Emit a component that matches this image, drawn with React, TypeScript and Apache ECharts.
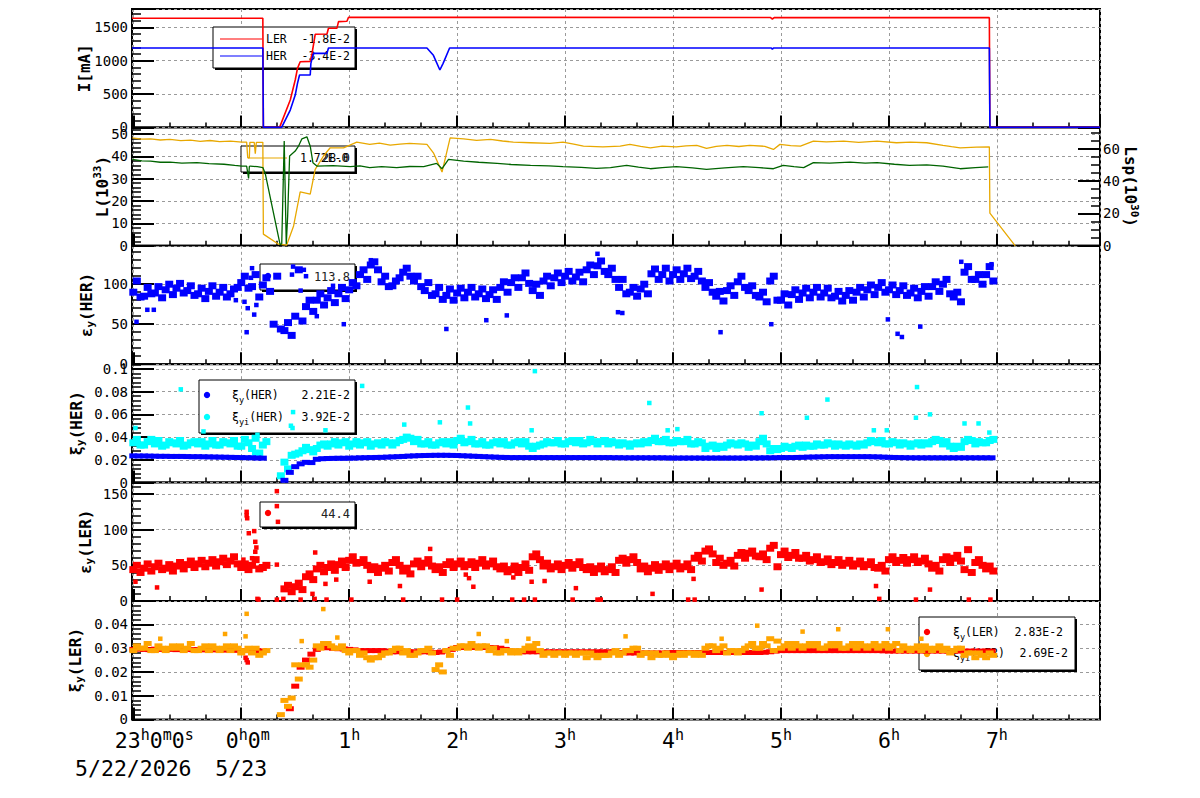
import React, { useEffect, useRef } from 'react';
import * as echarts from 'echarts';

const MONO = '"DejaVu Sans Mono", monospace';
const GRID_C = '#9a9a9a';

// time axis in hours relative to 0h of 5/23 (23:00 of 5/22 is -1)
const X_MIN = -1.012;
const X_MAX = 7.955;
const T0 = -1.0; // first sample time of the sampled band arrays
const DT = 0.1;  // sampling step (h) of the band arrays

// ---------- Panel 1 : beam currents I [mA] ----------
const lerCurrent: number[][] = [
  [-1.012, 1635], [0.2, 1635], [0.205, 0], [0.355, 0], [0.454, 410], [0.5, 710], [0.521, 885], [0.546, 985],
  [0.639, 990], [0.655, 1100], [0.685, 1395], [0.794, 1400], [0.808, 1485], [0.886, 1485], [0.901, 1585],
  [0.979, 1590], [0.994, 1650], [4.9, 1648], [4.92, 1625], [4.94, 1648], [6.93, 1645], [6.935, 0], [7.955, 0],
];
const herCurrent: number[][] = [
  [-1.012, 1190], [0.2, 1190], [0.205, 0], [0.374, 0], [0.454, 260], [0.5, 485], [0.521, 660], [0.54, 785],
  [0.639, 785], [0.645, 960], [0.669, 1110], [0.794, 1110], [0.808, 1190], [1.72, 1190], [1.78, 1080],
  [1.84, 860], [1.87, 960], [1.93, 1190], [4.91, 1190], [4.92, 1170], [4.93, 1190], [6.93, 1190], [6.935, 0], [7.955, 0],
];

// ---------- Panel 2 : luminosity ----------
const lspOrange: number[][] = [
  [-1.01, 66.7], [-0.92, 66.0], [-0.84, 66.1], [-0.75, 65.4], [-0.66, 65.8], [-0.56, 65.0], [-0.47, 65.3],
  [-0.38, 64.6], [-0.29, 65.1], [-0.2, 64.4], [-0.1, 64.7], [0.006, 64.1], [0.05, 64.1], [0.06, 54.4],
  [0.075, 54.4], [0.08, 64.0], [0.12, 64.0], [0.13, 57.0], [0.14, 64.0], [0.2, 64.0], [0.205, 7.2],
  [0.346, 1.0], [0.42, 0.4], [0.485, 12.3], [0.546, 33.3], [0.639, 31.9], [0.685, 47.3], [0.762, 55.5],
  [0.824, 60.6], [0.948, 60.6], [1.07, 64.1], [1.19, 62.7], [1.28, 63.5], [1.38, 62.2], [1.47, 62.9],
  [1.56, 63.3], [1.72, 62.7], [1.78, 57.5], [1.86, 45.6], [1.935, 66.7], [2.06, 66.1], [2.18, 65.2],
  [2.31, 65.8], [2.42, 64.8], [2.52, 64.1], [2.68, 63.7], [2.86, 63.3], [2.98, 64.1], [3.08, 62.8],
  [3.17, 61.6], [3.35, 61.2], [3.51, 61.6], [3.6, 62.7], [3.7, 61.5], [3.79, 60.6], [3.9, 61.6],
  [4.03, 61.2], [4.12, 61.8], [4.22, 62.1], [4.31, 60.2], [4.4, 61.5], [4.5, 62.1], [4.61, 61.4],
  [4.71, 62.1], [4.85, 61.5], [4.93, 59.6], [4.99, 62.7], [5.09, 61.9], [5.18, 61.6], [5.3, 64.7],
  [5.42, 64.2], [5.58, 64.7], [5.72, 64.0], [5.89, 64.7], [6.07, 63.7], [6.2, 64.1], [6.35, 63.7],
  [6.5, 62.1], [6.58, 61.3], [6.66, 60.6], [6.81, 61.0], [6.93, 61.2], [6.935, 20.2], [7.17, 0],
];
const lumGreen: number[][] = [
  [-1.01, 38.7], [-0.92, 38.0], [-0.84, 37.9], [-0.75, 37.4], [-0.66, 37.5], [-0.55, 37.0], [-0.41, 37.2],
  [-0.3, 36.8], [-0.16, 36.5], [-0.06, 36.0], [0.006, 35.7], [0.05, 35.7], [0.068, 30.2], [0.075, 35.5],
  [0.083, 35.7], [0.15, 35.4], [0.2, 35.0], [0.222, 32.4], [0.36, 0.5], [0.375, 0.8], [0.398, 46.9],
  [0.417, 0.8], [0.43, 13.4], [0.448, 40.2], [0.5, 42.4], [0.53, 44.6], [0.562, 47.9], [0.608, 48.8],
  [0.639, 44.6], [0.664, 37.2], [0.7, 35.7], [0.85, 35.9], [1.01, 35.4], [1.1, 35.8], [1.19, 35.0],
  [1.3, 35.4], [1.44, 35.0], [1.56, 35.5], [1.69, 35.4], [1.81, 36.9], [1.86, 34.5], [1.92, 38.7],
  [2.06, 37.9], [2.2, 37.4], [2.37, 36.9], [2.5, 36.4], [2.68, 36.0], [2.85, 35.8], [2.98, 35.4],
  [3.15, 35.1], [3.29, 34.7], [3.42, 35.0], [3.57, 36.0], [3.68, 35.2], [3.79, 34.5], [3.9, 35.0],
  [4.03, 35.4], [4.18, 34.9], [4.31, 34.2], [4.48, 34.9], [4.65, 35.4], [4.8, 35.0], [4.93, 34.5],
  [5.02, 36.0], [5.12, 35.4], [5.21, 35.0], [5.3, 37.2], [5.45, 37.0], [5.64, 37.5], [5.78, 37.0],
  [5.89, 37.2], [6.05, 36.5], [6.19, 36.0], [6.35, 36.2], [6.5, 35.7], [6.66, 34.5], [6.8, 35.0], [6.92, 35.3],
];

// ---------- Panel 3 : emittance eps_y(HER), three readings per 0.1 h ----------
const epsHerA: (number | null)[] = [
  104, 96, 97, 100, 101, 98, 95, 98, 96, 94,
  110, 112, 108, 110, 52, 118, 80, 88, 92, 96,
  102, 118, 128, 110, 104, 120, 110, 102, 96, 94,
  95, 96, 94, 93, 103, 108, 114, 100, 110, 114,
  116, 115, 124, 129, 120, 106, 96, 100, 119, 120,
  118, 120, 116, 102, 91, 98, 110, 98, 90, 110,
  88, 93, 95, 96, 95, 91, 92, 96, 99, 102,
  99, 98, 95, 97, 103, 106, 90, 122, 112, 122,
];
const epsHerB: (number | null)[] = [
  90, 85, 89, 93, 95, 92, 88, 91, 90, 88,
  102, 97, 99, 50, 42, 60, 72, 80, 83, 88,
  93, 112, 124, 103, 98, 115, 104, 92, 88, 86,
  89, 90, 88, 87, 96, 102, 108, 92, 104, 108,
  110, 109, 118, 123, 112, 96, 90, 94, 113, 112,
  112, 113, 110, 96, 85, 92, 103, 92, 84, 104,
  80, 87, 89, 90, 89, 85, 86, 90, 93, 96,
  93, 92, 89, 91, 97, 100, 84, 115, 106, 112,
];
const epsHerC: (number | null)[] = [
  84, 88, 83, 87, 89, 86, 82, 85, 84, 96,
  95, 84, 91, 44, 36, 54, 66, 74, 77, 82,
  98, 106, 118, 97, 108, 110, 97, 86, 81, 80,
  83, 84, 82, 81, 90, 96, 101, 86, 98, 102,
  104, 103, 112, 116, 106, 88, 85, 88, 106, 104,
  106, 107, 104, 90, 79, 86, 96, 86, 78, 80,
  74, 81, 83, 84, 83, 79, 80, 84, 87, 90,
  87, 86, 83, 85, 91, 88, 78, 106, 100, 104,
];
const epsHerOut: number[][] = [
  [-0.97, 53], [-0.87, 68], [-0.81, 68], [0.05, 40], [0.06, 70], [-0.05, 80], [0.12, 62], [0.6, 110], [0.7, 60],
  [0.95, 50], [1.9, 44], [2.27, 55], [2.46, 61], [3.49, 65], [3.53, 64], [4.44, 40], [4.91, 50], [5.99, 56],
  [6.08, 38], [6.12, 34], [6.29, 47], [6.67, 128], [6.95, 125], [3.3, 138], [1.2, 130], [0.48, 122],
  [0.47, 112], [0.14, 74], [0.03, 78], [0.09, 108], [0.1, 120], [0.55, 92], [0.58, 118], [0.85, 98],
];

// ---------- Panel 4 : beam-beam xi_y(HER) (blue) and xi_yi(HER) (cyan), in 1e-2 ----------
const xiHerA: (number | null)[] = [
  2.35, 2.34, 2.32, 2.31, 2.30, 2.29, 2.28, 2.26, 2.24, 2.22,
  2.20, 2.18, 2.15, null, 0.2, 1.4, 1.78, 2.05, 2.12, 2.14,
  2.15, 2.18, 2.20, 2.22, 2.26, 2.30, 2.35, 2.38, 2.40, 2.40,
  2.38, 2.34, 2.30, 2.26, 2.22, 2.20, 2.20, 2.20, 2.20, 2.20,
  2.20, 2.20, 2.20, 2.20, 2.20, 2.19, 2.18, 2.18, 2.18, 2.18,
  2.16, 2.16, 2.16, 2.16, 2.16, 2.16, 2.16, 2.17, 2.17, 2.18,
  2.20, 2.20, 2.22, 2.25, 2.27, 2.28, 2.28, 2.28, 2.28, 2.26,
  2.22, 2.20, 2.18, 2.18, 2.18, 2.18, 2.18, 2.18, 2.18, 2.18,
];
const xiHerB: (number | null)[] = [
  2.34, 2.33, 2.31, 2.30, 2.30, 2.28, 2.27, 2.25, 2.23, 2.21,
  2.19, 2.16, null, null, 0.9, 1.65, 1.76, 2.10, 2.13, 2.14,
  2.16, 2.19, 2.21, 2.24, 2.28, 2.33, 2.37, 2.39, 2.40, 2.39,
  2.36, 2.32, 2.28, 2.24, 2.21, 2.20, 2.20, 2.20, 2.20, 2.20,
  2.20, 2.20, 2.20, 2.20, 2.19, 2.18, 2.18, 2.18, 2.18, 2.17,
  2.16, 2.16, 2.16, 2.16, 2.16, 2.16, 2.16, 2.17, 2.18, 2.19,
  2.20, 2.21, 2.24, 2.26, 2.28, 2.28, 2.28, 2.28, 2.27, 2.24,
  2.21, 2.19, 2.18, 2.18, 2.18, 2.18, 2.18, 2.18, 2.18, 2.18,
];
const xiiHerA: (number | null)[] = [
  3.8, 3.6, 3.7, 3.6, 3.7, 3.5, 3.6, 3.7, 3.6, 3.7,
  3.8, 3.9, 3.6, null, 1.2, 2.6, 2.9, 3.3, 3.4, 3.5,
  3.4, 3.5, 3.4, 3.6, 3.5, 4.0, 3.8, 3.6, 3.5, 3.6,
  3.9, 3.8, 3.6, 3.5, 3.6, 3.5, 3.6, 3.2, 3.6, 3.7,
  3.6, 3.7, 3.8, 3.6, 3.6, 3.5, 3.4, 3.6, 3.9, 3.8,
  3.7, 3.8, 3.6, 3.2, 3.2, 3.5, 3.5, 3.3, 3.9, 3.0,
  3.2, 3.2, 3.3, 3.4, 3.5, 3.4, 3.4, 3.4, 3.7, 3.7,
  3.6, 3.5, 3.4, 3.5, 3.8, 3.6, 3.2, 3.8, 3.6, 3.7,
];
const xiiHerB: (number | null)[] = [
  3.5, 3.3, 3.4, 3.3, 3.4, 3.3, 3.4, 3.4, 3.3, 3.4,
  3.2, 3.0, 3.3, null, 1.8, 2.5, 3.1, 3.0, 3.2, 3.3,
  3.2, 3.3, 3.2, 3.3, 3.3, 3.8, 3.6, 3.4, 3.3, 3.4,
  3.7, 3.6, 3.4, 3.3, 3.4, 3.3, 3.4, 3.0, 3.4, 3.5,
  3.4, 3.5, 3.5, 3.4, 3.4, 3.3, 3.2, 3.4, 3.7, 3.6,
  3.5, 3.6, 3.4, 3.0, 3.0, 3.3, 3.3, 3.1, 3.6, 2.8,
  3.0, 3.0, 3.1, 3.2, 3.3, 3.2, 3.2, 3.2, 3.5, 3.5,
  3.4, 3.3, 3.2, 3.3, 3.6, 3.4, 3.0, 3.6, 3.4, 3.5,
];
const xiiHerC: (number | null)[] = [
  3.3, 3.8, 3.2, 3.5, 3.2, 3.6, 3.2, 3.3, 3.5, 3.2,
  3.5, 2.6, null, 0.6, 2.4, 2.8, 2.7, 3.4, 3.6, 3.6,
  3.6, 3.6, 3.5, 3.5, 3.7, 3.9, 3.4, 3.3, 3.6, 3.3,
  3.5, 3.4, 3.3, 3.6, 3.3, 3.6, 3.2, 3.3, 3.5, 3.4,
  3.7, 3.4, 3.6, 3.7, 3.5, 3.4, 3.5, 3.5, 3.6, 3.5,
  3.6, 3.4, 3.5, 3.3, 3.1, 3.4, 3.4, 3.2, 3.4, 2.9,
  3.1, 3.3, 3.2, 3.3, 3.4, 3.3, 3.3, 3.3, 3.6, 3.4,
  3.5, 3.4, 3.5, 3.4, 3.7, 3.2, 3.1, 3.7, 3.5, 3.8,
];
const xiiHerOut: number[][] = [
  [-0.56, 8.2], [-0.98, 4.8], [-0.35, 4.5], [0.475, 4.8], [0.46, 5.0], [0.48, 6.2], [1.12, 8.5], [1.84, 5.3],
  [2.1, 6.6], [2.12, 5.2], [2.72, 9.8], [1.51, 5.1], [0.78, 4.6], [2.69, 4.6], [3.78, 7.0], [4.82, 6.1],
  [5.24, 5.7], [5.43, 7.3], [6.26, 8.4], [6.25, 5.7], [6.38, 6.0], [6.7, 5.2], [6.83, 5.2], [6.93, 4.4],
  [5.86, 4.6], [5.98, 4.6], [4.04, 4.7], [3.95, 4.6], [0.1, 2.2], [0.15, 4.2], [0.12, 2.6],
];

// ---------- Panel 5 : emittance eps_y(LER) ----------
const epsLerA: (number | null)[] = [
  50, 52, 53, 51, 54, 56, 57, 58, 60, 62,
  52, 58, 50, null, 22, 25, 38, 50, 52, 56,
  62, 58, 48, 50, 58, 46, 56, 58, 48, 55,
  56, 55, 58, 56, 49, 49, 52, 66, 53, 52,
  54, 55, 48, 49, 48, 60, 62, 49, 51, 52,
  53, 52, 64, 73, 60, 57, 68, 70, 66, 78,
  70, 68, 64, 62, 59, 58, 57, 56, 55, 50,
  62, 61, 62, 60, 50, 62, 64, 72, 58, 49,
];
const epsLerB: (number | null)[] = [
  44, 46, 48, 46, 49, 51, 52, 53, 55, 56,
  47, 50, 47, null, 17, 20, 34, 45, 47, 51,
  57, 54, 44, 46, 54, 42, 52, 53, 44, 51,
  52, 51, 53, 52, 45, 44, 47, 62, 49, 48,
  50, 51, 44, 45, 44, 57, 58, 45, 46, 48,
  49, 48, 60, 70, 54, 53, 64, 67, 62, 74,
  65, 64, 60, 58, 55, 54, 53, 52, 51, 46,
  58, 57, 58, 56, 46, 58, 60, 44, 54, 45,
];
const epsLerC: (number | null)[] = [
  40, 42, 44, 42, 45, 47, 48, 49, 51, 52,
  44, 45, null, null, 13, 16, 30, 41, 43, 47,
  53, 50, 40, 42, 50, 38, 48, 49, 40, 47,
  48, 47, 49, 48, 41, 40, 43, 58, 45, 44,
  46, 47, 40, 41, 40, 53, 54, 41, 43, 44,
  45, 44, 56, 66, 50, 49, 60, 63, 58, 48,
  61, 60, 56, 54, 51, 50, 49, 48, 47, 42,
  54, 53, 54, 52, 42, 54, 56, 40, 50, 42,
];
const epsLerOut: number[][] = [
  [-0.98, 27], [-0.78, 19], [1.75, 73], [1.19, 27], [2.15, 20], [2.81, 28], [3.1, 18], [3.81, 10], [4.19, 31],
  [4.82, 16], [5.88, 21], [6.38, 16], [0.685, 68], [0.78, 24], [0.88, 30], [0.66, 10], [1.47, 21],
  [2.11, 32], [2.08, 37], [2.52, 33], [2.69, 27],
  [0.15, 3], [0.16, 2], [0.33, 2], [0.39, 3], [0.55, 2], [0.68, 3], [0.79, 2], [1.02, 2], [1.5, 2],
  [1.86, 2], [2.0, 2], [2.51, 2], [2.62, 2], [2.72, 2], [3.07, 2], [3.3, 2], [3.33, 2], [4.14, 2],
  [4.2, 2], [5.91, 3], [6.25, 2], [6.74, 2], [6.94, 2],
  [0.05, 125], [0.05, 120], [0.055, 116], [0.07, 95], [0.12, 98], [0.13, 83], [0.14, 75], [0.13, 69],
  [0.33, 154], [0.33, 133], [0.34, 111], [0.33, 51], [0.1, 60], [0.02, 58],
];

// ---------- Panel 6 : beam-beam xi_y(LER) (red) and xi_yi(LER) (orange), in 1e-2 ----------
const xiLerA: (number | null)[] = [
  2.95, 2.95, 2.96, 2.95, 2.94, 2.95, 2.94, 2.93, 2.93, 2.92,
  2.90, 2.90, 2.88, null, null, 1.4, 2.5, 2.95, 3.02, 2.98,
  2.95, 2.90, 2.90, 2.90, 2.85, 2.85, 2.85, 2.85, 2.82, 2.88,
  3.03, 3.03, 3.03, 3.03, 3.00, 2.88, 2.85, 2.85, 2.85, 2.85,
  2.85, 2.85, 2.85, 2.85, 2.85, 2.82, 2.80, 2.80, 2.80, 2.80,
  2.82, 2.82, 2.82, 2.82, 2.82, 2.82, 2.82, 2.82, 2.82, 2.85,
  2.90, 2.90, 2.90, 2.90, 2.90, 2.90, 2.90, 2.90, 2.90, 2.90,
  2.88, 2.88, 2.88, 2.88, 2.88, 2.88, 2.88, 2.88, 2.88, 2.88,
];
const xiLerB: (number | null)[] = [
  2.96, 2.94, 2.95, 2.95, 2.95, 2.94, 2.93, 2.93, 2.92, 2.91,
  2.90, 2.89, null, null, 0.45, 2.2, 2.75, 3.05, 3.00, 2.97,
  2.93, 2.90, 2.90, 2.88, 2.85, 2.85, 2.85, 2.84, 2.84, 2.95,
  3.03, 3.03, 3.03, 3.02, 2.95, 2.86, 2.85, 2.85, 2.85, 2.85,
  2.85, 2.85, 2.85, 2.85, 2.84, 2.81, 2.80, 2.80, 2.80, 2.81,
  2.82, 2.82, 2.82, 2.82, 2.82, 2.82, 2.82, 2.82, 2.83, 2.88,
  2.90, 2.90, 2.90, 2.90, 2.90, 2.90, 2.90, 2.90, 2.90, 2.89,
  2.88, 2.88, 2.88, 2.88, 2.88, 2.88, 2.88, 2.88, 2.88, 2.88,
];
const xiLerOut: number[][] = [[0.05, 2.5], [0.06, 2.4], [0.04, 2.6]];
const xiiLerA: (number | null)[] = [
  3.1, 3.2, 3.1, 3.0, 3.1, 3.2, 3.0, 3.1, 3.0, 3.1,
  2.9, 3.0, 2.9, null, 0.55, 1.7, 2.2, 3.0, 3.1, 3.1,
  2.9, 2.8, 2.6, 2.8, 3.0, 2.9, 2.8, 3.0, 2.3, 2.7,
  3.1, 3.2, 3.1, 3.0, 2.9, 2.9, 3.0, 3.2, 2.8, 2.8,
  2.8, 2.8, 2.8, 2.7, 2.8, 2.8, 3.0, 2.8, 2.8, 2.8,
  2.7, 2.8, 2.8, 3.1, 3.0, 2.9, 2.9, 3.2, 3.2, 2.9,
  3.1, 3.2, 3.1, 3.2, 3.1, 3.2, 3.1, 3.2, 3.1, 3.1,
  3.1, 3.1, 3.0, 3.1, 3.0, 3.0, 3.0, 2.8, 2.8, 2.8,
];
const xiiLerB: (number | null)[] = [
  2.9, 3.0, 2.9, 2.9, 3.0, 3.0, 2.9, 2.9, 2.9, 2.9,
  2.8, 2.8, 2.8, null, 0.8, 2.3, 2.3, 3.1, 3.2, 3.0,
  2.8, 2.7, 2.5, 2.7, 2.9, 2.8, 2.7, 2.9, 2.1, 2.9,
  3.0, 3.0, 3.0, 2.9, 2.8, 2.8, 2.9, 3.0, 2.7, 2.7,
  2.7, 2.7, 2.6, 2.6, 2.7, 2.7, 2.9, 2.7, 2.6, 2.7,
  2.6, 2.7, 2.7, 3.0, 2.9, 2.8, 2.8, 3.1, 3.0, 3.4,
  3.0, 3.0, 3.0, 3.1, 3.0, 3.1, 3.0, 3.0, 3.0, 3.0,
  3.0, 2.9, 2.9, 2.9, 2.9, 2.9, 2.9, 2.7, 2.6, 2.6,
];
const xiiLerC: (number | null)[] = [
  3.0, 2.9, 3.0, 3.1, 2.9, 2.9, 3.1, 3.0, 3.1, 3.0,
  3.0, 2.7, null, 0.2, 0.9, 2.3, 2.5, 3.2, 3.0, 2.9,
  2.9, 2.6, 2.6, 2.8, 3.0, 2.7, 2.9, 2.8, 2.0, 3.0,
  3.1, 3.1, 3.1, 2.8, 2.9, 2.8, 3.1, 2.9, 2.8, 2.8,
  2.8, 2.8, 2.7, 2.7, 2.9, 2.9, 3.0, 2.8, 2.7, 2.7,
  2.8, 2.8, 2.7, 3.1, 3.1, 2.9, 3.0, 3.0, 3.1, 3.3,
  3.2, 3.1, 3.2, 3.0, 3.2, 3.0, 3.2, 3.1, 3.2, 3.2,
  3.2, 3.0, 3.1, 3.0, 3.1, 2.8, 3.0, 2.8, 2.7, 2.7,
];
const xiiLerOut: number[][] = [
  [0.05, 4.45], [0.76, 4.65], [-0.15, 3.6], [2.2, 3.6], [2.66, 3.4], [4.78, 3.95], [5.2, 3.7], [5.53, 3.8],
  [5.99, 3.8], [3.56, 3.5], [4.45, 3.4], [6.3, 3.4], [0.04, 3.5], [-0.75, 3.4], [0.56, 3.3], [0.89, 3.45],
  [2.46, 3.3],
];

// ---------- legend texts ----------
const legCurrent = [
  { name: 'LER', value: '-1.8E-2', color: '#ff0000' },
  { name: 'HER', value: '-3.4E-2', color: '#0000ff' },
];
const legLum = { a: '1.72E-0', b: '28.0' };
const legEpsHer = '113.8';
const legEpsLer = '44.4';
const legXiHer = [
  { name: '{g|ξ}{s|y}{g|(HER)}', value: '2.21E-2', color: '#0000ff' },
  { name: '{g|ξ}{s|yi}{g|(HER)}', value: '3.92E-2', color: '#00ffff' },
];
const legXiLer = [
  { name: '{g|ξ}{s|y}{g|(LER)}', value: '2.83E-2', color: '#ff0000' },
  { name: '{g|ξ}{s|yi}{g|(LER)}', value: '2.69E-2', color: '#ffa500' },
];

// ---------- helpers ----------
const BAND_OFFS = [0.033, 0, 0.067];
const OUT_SYM = 4.5;
const sampled = (arrs: (number | null)[][], offs: number[], scale: number) => {
  const pts: number[][] = [];
  arrs.forEach((arr, k) =>
    arr.forEach((v, i) => {
      if (v !== null) pts.push([T0 + DT * i + offs[k], v * scale]);
    })
  );
  return pts;
};
const outliers = (pts: number[][], scale: number) =>
  pts.map(([t, v]) => ({ value: [t, v * scale], symbolSize: OUT_SYM }));

const NAME_RICH = {
  n: { fontSize: 16, fontWeight: 'bold', fontFamily: MONO, color: '#000', lineHeight: 20 },
  sub: { fontSize: 11, fontWeight: 'bold', fontFamily: MONO, color: '#000', lineHeight: 10, verticalAlign: 'bottom' },
  sup: { fontSize: 11, fontWeight: 'bold', fontFamily: MONO, color: '#000', lineHeight: 10, verticalAlign: 'top' },
};

const PANEL_TOP = 9;
const PANEL_H = 118.4;

const xLabel = (v: number) => {
  const r = Math.round(v);
  if (Math.abs(v - r) > 1e-6) return '';
  if (r === -1) return '{p1|}{b|23}{s|h}{b|0}{s|m}{b|0}{s|s}\n{d|5/22/2026}';
  if (r === 0) return '{p0|}{b|0}{s|h}{b|0}{s|m}\n{d|5/23}';
  return `{b|${r}}{s|h}`;
};

function buildOption() {
  const grids = [0, 1, 2, 3, 4, 5].map((i) => ({
    left: 132,
    width: 968,
    top: PANEL_TOP + i * PANEL_H,
    height: PANEL_H,
    show: true,
    borderColor: '#000',
    borderWidth: 2,
    backgroundColor: '#fff',
  }));

  const xAxes = [0, 1, 2, 3, 4, 5].map((i) => ({
    type: 'value',
    gridIndex: i,
    min: X_MIN,
    max: X_MAX,
    splitNumber: 9,
    axisLine: { show: false, onZero: false },
    axisTick: { show: true, inside: true, length: 12, lineStyle: { color: '#000', width: 2 } },
    minorTick: { show: true, splitNumber: 3, length: 5, lineStyle: { color: '#000', width: 1.5 } },
    splitLine: { show: true, lineStyle: { color: GRID_C, type: [3, 3], width: 1 } },
    axisLabel: {
      show: i === 5,
      margin: 8,
      color: '#000',
      fontFamily: MONO,
      formatter: xLabel,
      rich: {
        b: { fontSize: 21.5, fontFamily: MONO, color: '#000', lineHeight: 26 },
        s: { fontSize: 15, fontFamily: MONO, color: '#000', lineHeight: 15, verticalAlign: 'top' },
        d: { fontSize: 21.5, fontFamily: MONO, color: '#000', lineHeight: 30 },
        p1: { width: 42 },
        p0: { width: 13 },
      },
    },
  }));

  const yAx = (gridIndex: number, max: number, interval: number, name: string, nameGap: number, extra: any = {}) => ({
    type: 'value',
    gridIndex,
    min: 0,
    max,
    interval,
    position: 'left',
    axisLine: { show: false, onZero: false },
    axisTick: { show: true, inside: true, length: 22, lineStyle: { color: '#000', width: 2 } },
    minorTick: { show: true, splitNumber: 5, length: 9, lineStyle: { color: '#000', width: 1.5 } },
    splitLine: { show: true, lineStyle: { color: GRID_C, type: [3, 3], width: 1 } },
    axisLabel: {
      show: true,
      color: '#000',
      fontFamily: MONO,
      fontSize: 14,
      margin: 4,
      showMaxLabel: false,
      formatter: (v: number) => String(v),
    },
    name,
    nameLocation: 'middle',
    nameRotate: 90,
    nameGap,
    nameMoveOverlap: false,
    nameTextStyle: { fontFamily: MONO, fontSize: 16, fontWeight: 'bold', color: '#000', rich: NAME_RICH },
    ...extra,
  });

  const yAxes = [
    yAx(0, 1774.5, 500, '{n|I[mA]}', 38),
    yAx(1, 53, 10, '{n|L(10}{sup|33}{n|)}', 20),
    yAx(1, 73.2, 20, '{n|Lsp(10}{sup|30}{n|)}', 20, {
      position: 'right',
      nameRotate: -90,
      splitLine: { show: false },
      minorTick: { show: true, splitNumber: 4, length: 9, lineStyle: { color: '#000', width: 1.5 } },
      axisLabel: { show: true, color: '#000', fontFamily: MONO, fontSize: 14, margin: 3, showMaxLabel: false, formatter: (v: number) => String(v) },
    }),
    yAx(2, 148, 50, '{n|ε}{sub|y}{n|(HER)}', 36),
    yAx(3, 0.1041, 0.02, '{n|ξ}{sub|y}{n|(HER)}', 46),
    yAx(4, 166, 50, '{n|ε}{sub|y}{n|(LER)}', 37),
    yAx(5, 0.0499, 0.01, '{n|ξ}{sub|y}{n|(LER)}', 47),
  ];

  const sq = (color: string, size: any) => ({
    type: 'scatter',
    symbol: 'rect',
    symbolSize: size,
    itemStyle: { color, opacity: 1 },
    silent: true,
    large: false,
  });

  const series: any[] = [
    { type: 'line', xAxisIndex: 0, yAxisIndex: 0, data: lerCurrent, symbol: 'none', lineStyle: { color: '#ff0000', width: 1.6 }, silent: true },
    { type: 'line', xAxisIndex: 0, yAxisIndex: 0, data: herCurrent, symbol: 'none', lineStyle: { color: '#0000ff', width: 1.6 }, silent: true },
    { type: 'line', xAxisIndex: 1, yAxisIndex: 2, data: lspOrange, symbol: 'none', lineStyle: { color: '#e8a800', width: 1.3 }, silent: true },
    { type: 'line', xAxisIndex: 1, yAxisIndex: 1, data: lumGreen, symbol: 'none', lineStyle: { color: '#006400', width: 1.3 }, silent: true },
    {
      ...sq('#0000ff', [8, 7]), xAxisIndex: 2, yAxisIndex: 3,
      data: [...sampled([epsHerA, epsHerB, epsHerC], BAND_OFFS, 1), ...outliers(epsHerOut, 1)],
    },
    {
      ...sq('#00ffff', [8, 7]), xAxisIndex: 3, yAxisIndex: 4,
      data: [...sampled([xiiHerA, xiiHerB, xiiHerC], BAND_OFFS, 0.01), ...outliers(xiiHerOut, 0.01)],
    },
    {
      ...sq('#0000ff', [8, 5]), xAxisIndex: 3, yAxisIndex: 4,
      data: sampled([xiHerA, xiHerB], [0, 0.05], 0.01),
    },
    {
      ...sq('#ff0000', [8, 7]), xAxisIndex: 4, yAxisIndex: 5,
      data: [...sampled([epsLerA, epsLerB, epsLerC], BAND_OFFS, 1), ...outliers(epsLerOut, 1)],
    },
    {
      ...sq('#ff0000', [8, 5]), xAxisIndex: 5, yAxisIndex: 6,
      data: [...sampled([xiLerA, xiLerB], [0, 0.05], 0.01), ...outliers(xiLerOut, 0.01)],
    },
    {
      ...sq('#ffa500', [8, 5]), xAxisIndex: 5, yAxisIndex: 6,
      data: [...sampled([xiiLerA, xiiLerB, xiiLerC], BAND_OFFS, 0.01), ...outliers(xiiLerOut, 0.01)],
    },
  ];

  // ---- legends drawn as graphic boxes (below the data, above the grid lines) ----
  const LF = 11.5;
  const txt = (x: number, y: number, text: string, align: string, size = LF, color = '#000') => ({
    type: 'text', x, y, z: 1, silent: true,
    style: {
      text, align, verticalAlign: 'middle', fontSize: size, fontFamily: MONO, fill: color,
      rich: {
        g: { fontSize: size, fontFamily: MONO, fill: color, lineHeight: 18 },
        s: { fontSize: size * 0.75, fontFamily: MONO, fill: color, lineHeight: 9, verticalAlign: 'bottom' },
      },
    },
  });
  const box = (x: number, y: number, w: number, h: number) => [
    { type: 'rect', z: 1, silent: true, shape: { x: x + 2, y: y + 2, width: w, height: h }, style: { fill: '#000' } },
    { type: 'rect', z: 1, silent: true, shape: { x, y, width: w, height: h }, style: { fill: '#fff', stroke: '#000', lineWidth: 1 } },
  ];
  const lineEl = (x1: number, x2: number, y: number, color: string) => ({
    type: 'line', z: 1, silent: true, shape: { x1, y1: y, x2, y2: y }, style: { stroke: color, lineWidth: 1.2 },
  });
  const dot = (cx: number, cy: number, color: string) => ({
    type: 'circle', z: 1, silent: true, shape: { cx, cy, r: 3.2 }, style: { fill: color },
  });

  const elements: any[] = [
    ...box(213, 27, 142, 41),
    lineEl(220, 262, 39, legCurrent[0].color),
    txt(266, 39, legCurrent[0].name, 'left'),
    txt(350, 39, legCurrent[0].value, 'right'),
    lineEl(220, 262, 56, legCurrent[1].color),
    txt(266, 56, legCurrent[1].name, 'left'),
    txt(350, 56, legCurrent[1].value, 'right'),

    ...box(241, 146, 114, 26),
    lineEl(248, 287, 158, '#e8a800'),
    txt(300, 158, legLum.a, 'left'),
    txt(350, 158, legLum.b, 'right'),

    ...box(260, 264, 95, 26),
    dot(268, 276, '#0000ff'),
    txt(350, 277, legEpsHer, 'right', 12, '#222'),

    ...box(199, 380, 156, 53),
    dot(207, 395, legXiHer[0].color),
    txt(232, 395, legXiHer[0].name, 'left'),
    txt(350, 395, legXiHer[0].value, 'right'),
    dot(207, 417, legXiHer[1].color),
    txt(232, 417, legXiHer[1].name, 'left'),
    txt(350, 417, legXiHer[1].value, 'right'),

    ...box(260, 502, 95, 25),
    dot(268, 513, '#ff0000'),
    txt(350, 514, legEpsLer, 'right', 12, '#222'),

    ...box(919, 617, 156, 53),
    dot(927, 632, legXiLer[0].color),
    txt(953, 632, legXiLer[0].name, 'left'),
    txt(1063, 632, legXiLer[0].value, 'right'),
    dot(927, 654, legXiLer[1].color),
    txt(953, 653, legXiLer[1].name, 'left'),
    txt(1068, 653, legXiLer[1].value, 'right'),
  ];

  return {
    animation: false,
    backgroundColor: '#fff',
    textStyle: { fontFamily: MONO },
    grid: grids,
    xAxis: xAxes,
    yAxis: yAxes,
    series,
    graphic: { elements },
  };
}

export default function App() {
  const ref = useRef<HTMLDivElement>(null);
  useEffect(() => {
    if (!ref.current) return;
    const chart = echarts.init(ref.current, null, { renderer: 'svg' });
    chart.setOption(buildOption() as any);
    return () => chart.dispose();
  }, []);
  return (
    <div
      ref={ref}
      style={{ position: 'fixed', left: 0, top: 0, width: 1200, height: 798, background: '#fff' }}
    />
  );
}
